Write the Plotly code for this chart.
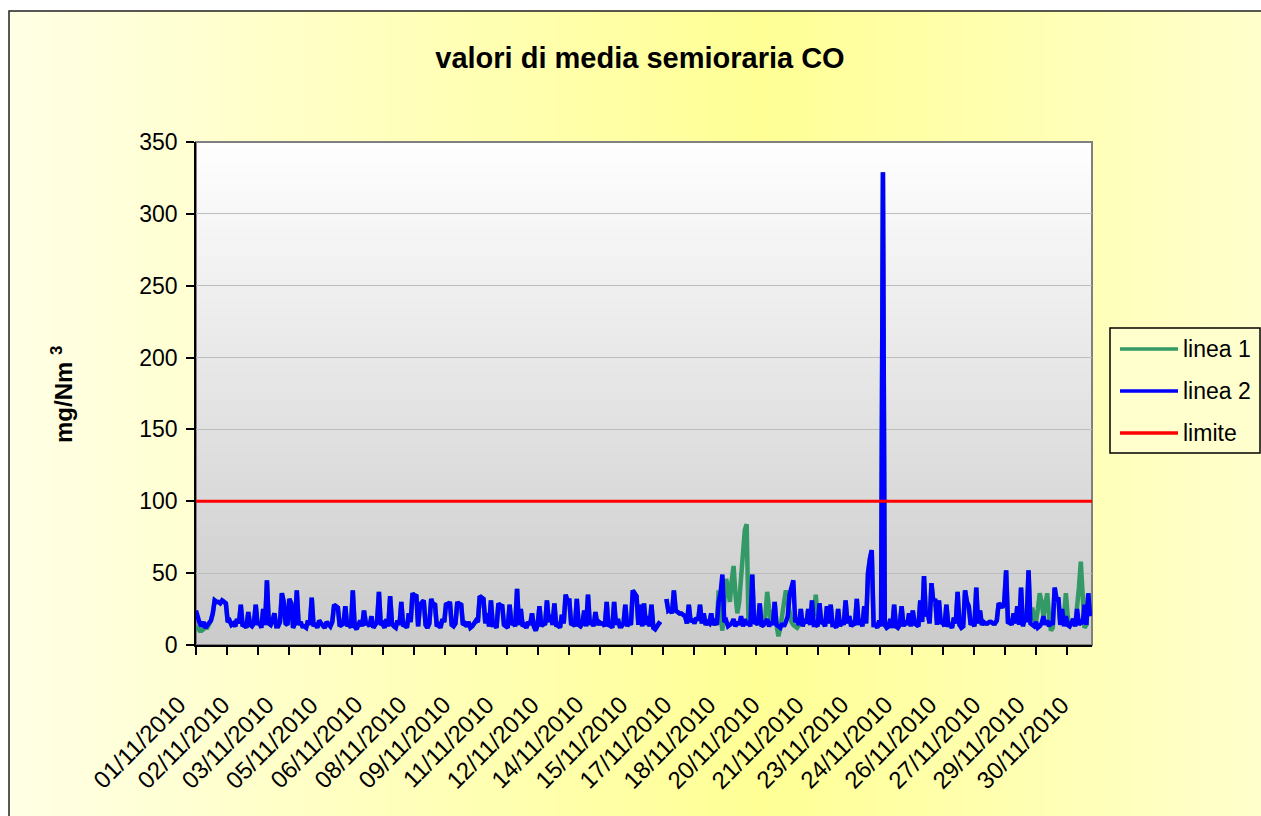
import numpy as np
import plotly.graph_objects as go

# ---------------- data ----------------
# half-hourly category index (sampled every 3 categories of 1440 = 30 days x 48)
passo = 3
n_categorie = 1440
categoria = list(range(0, n_categorie, passo))

linea_2 = [
    24, 18, 15, 13, 16, 12, 14, 15, 17, 22, 31, 30, 30, 29, 31, 30, 29, 16, 17, 14,
    15, 13, 18, 15, 28, 13, 14, 12, 23, 14, 13, 15, 28, 14, 16, 12, 25, 14, 45, 15,
    14, 17, 22, 13, 13, 16, 36, 30, 15, 14, 32, 29, 12, 15, 38, 14, 16, 13, 13, 12,
    17, 14, 33, 13, 15, 12, 17, 15, 14, 12, 16, 14, 13, 16, 28, 27, 26, 13, 14, 15,
    27, 13, 15, 12, 38, 13, 11, 14, 17, 13, 24, 15, 15, 13, 20, 12, 14, 16, 37, 14,
    15, 12, 18, 13, 34, 15, 13, 12, 17, 14, 30, 13, 14, 12, 22, 16, 36, 34, 35, 13,
    28, 30, 31, 14, 12, 15, 32, 28, 29, 13, 14, 12, 18, 16, 29, 28, 30, 14, 13, 15,
    30, 28, 29, 14, 15, 13, 16, 12, 13, 15, 17, 16, 34, 33, 32, 15, 22, 13, 31, 14,
    14, 12, 29, 27, 28, 14, 13, 12, 28, 14, 16, 13, 39, 14, 25, 13, 14, 12, 16, 14,
    22, 13, 10, 14, 27, 13, 15, 14, 31, 16, 21, 14, 29, 13, 14, 12, 21, 15, 35, 31,
    31, 14, 15, 13, 32, 14, 13, 15, 24, 13, 35, 14, 17, 13, 23, 14, 16, 15, 15, 13,
    30, 13, 14, 12, 30, 14, 18, 13, 13, 15, 28, 13, 16, 14, 38, 36, 34, 14, 28, 13,
    29, 14, 20, 13, 28, 12, 11, 13, 15, 14, None, None, 32, 24, 25, 22, 38, 24, 23, 22,
    22, 21, 20, 15, 28, 16, 18, 15, 19, 17, 28, 15, 22, 14, 16, 15, 22, 14, 16, 14,
    30, 36, 49, 16, 17, 13, 14, 15, 18, 13, 16, 14, 20, 13, 18, 14, 16, 13, 49, 15,
    16, 14, 29, 13, 14, 16, 18, 13, 16, 14, 30, 14, 13, 12, 15, 13, 16, 20, 35, 42,
    45, 16, 17, 14, 25, 13, 18, 15, 25, 14, 31, 14, 14, 13, 29, 15, 16, 13, 27, 15,
    28, 14, 14, 12, 25, 13, 17, 14, 31, 15, 20, 13, 15, 14, 32, 14, 18, 13, 27, 15,
    50, 60, 66, 14, 14, 12, 17, 13, 329, 14, 12, 13, 18, 12, 28, 13, 12, 14, 27, 13,
    17, 14, 22, 13, 24, 15, 14, 13, 31, 16, 48, 20, 22, 15, 43, 30, 32, 14, 31, 15,
    16, 13, 28, 14, 14, 12, 19, 15, 37, 14, 12, 13, 38, 30, 27, 14, 16, 13, 40, 15,
    24, 14, 16, 15, 15, 16, 16, 15, 15, 17, 29, 27, 26, 30, 52, 15, 16, 14, 22, 15,
    27, 14, 40, 13, 19, 16, 52, 15, 14, 13, 16, 12, 13, 15, 20, 14, 17, 13, 16, 14,
    40, 32, 33, 14, 25, 13, 20, 14, 13, 15, 18, 13, 25, 14, 16, 15, 28, 14, 36, 20,
]

linea_1 = [
    13, 11, 10, 10, 11, 12, 12, 15, 17, 22, 31, 30, 30, 29, 31, 30, 29, 16, 17, 14,
    15, 13, 18, 15, 28, 13, 14, 12, 23, 14, 13, 15, 28, 14, 16, 12, 25, 14, 45, 15,
    14, 17, 22, 13, 13, 16, 36, 30, 15, 14, 32, 29, 12, 15, 38, 14, 16, 13, 13, 12,
    17, 14, 33, 13, 15, 12, 17, 15, 14, 12, 16, 14, 13, 16, 28, 27, 26, 13, 14, 15,
    27, 13, 15, 12, 38, 13, 11, 14, 17, 13, 24, 15, 15, 13, 20, 12, 14, 16, 37, 14,
    15, 12, 18, 13, 34, 15, 13, 12, 17, 14, 30, 13, 14, 12, 22, 16, 36, 34, 35, 13,
    28, 30, 31, 14, 12, 15, 32, 28, 29, 13, 14, 12, 18, 16, 29, 28, 30, 14, 13, 15,
    30, 28, 29, 14, 15, 13, 16, 12, 13, 15, 17, 16, 34, 33, 32, 15, 22, 13, 31, 14,
    14, 12, 29, 27, 28, 14, 13, 12, 28, 14, 16, 13, 39, 14, 25, 13, 14, 12, 16, 14,
    22, 13, 10, 14, 27, 13, 15, 14, 31, 16, 21, 14, 29, 13, 14, 12, 21, 15, 35, 31,
    31, 14, 15, 13, 32, 14, 13, 15, 24, 13, 35, 14, 17, 13, 23, 14, 16, 15, 15, 13,
    30, 13, 14, 12, 30, 14, 18, 13, 13, 15, 28, 13, 16, 14, 38, 36, 34, 14, 28, 13,
    29, 14, 20, 13, 28, 12, 11, 13, 15, 14, None, None, 32, 24, 25, 22, 38, 24, 23, 22,
    22, 21, 20, 15, 28, 16, 18, 15, 19, 17, 28, 15, 22, 14, 16, 15, 22, 14, 16, 14,
    38, 20, 10, 30, 46, 40, 30, 45, 55, 35, 22, 30, 50, 70, 80, 84, 14, 16, 49, 15,
    16, 14, 29, 13, 14, 20, 37, 25, 16, 14, 30, 14, 6, 12, 20, 28, 38, 30, 20, 16,
    14, 13, 12, 14, 25, 13, 18, 15, 25, 14, 31, 20, 35, 20, 29, 15, 16, 13, 27, 15,
    28, 14, 14, 12, 25, 13, 17, 14, 31, 15, 20, 13, 15, 14, 32, 14, 18, 13, 27, 15,
    50, 60, 66, 14, 14, 12, 17, 13, 329, 14, 12, 13, 18, 12, 28, 13, 12, 14, 27, 13,
    17, 14, 22, 13, 24, 15, 14, 13, 31, 16, 48, 20, 22, 15, 43, 30, 32, 14, 31, 15,
    16, 13, 28, 14, 14, 12, 19, 15, 37, 14, 12, 13, 38, 30, 27, 14, 16, 13, 40, 15,
    24, 14, 16, 15, 15, 16, 16, 15, 15, 17, 29, 27, 26, 30, 52, 15, 16, 14, 22, 15,
    27, 14, 40, 13, 19, 16, 52, 20, 26, 18, 16, 25, 36, 30, 20, 28, 36, 20, 10, 12,
    40, 32, 33, 14, 25, 20, 36, 20, 13, 15, 18, 13, 25, 40, 58, 30, 12, 14, 36, 20,
]

limite = 100

etichette_x = [
    "01/11/2010", "02/11/2010", "03/11/2010", "05/11/2010", "06/11/2010",
    "08/11/2010", "09/11/2010", "11/11/2010", "12/11/2010", "14/11/2010",
    "15/11/2010", "17/11/2010", "18/11/2010", "20/11/2010", "21/11/2010",
    "23/11/2010", "24/11/2010", "26/11/2010", "27/11/2010", "29/11/2010",
    "30/11/2010",
]
intervallo_etichette = 71
intervallo_tacche = 50
y_ticks = [0, 50, 100, 150, 200, 250, 300, 350]

nomi = ["linea 1", "linea 2", "limite"]
colori = ["#339966", "#0000FF", "#FF0000"]

# ---------------- layout geometry ----------------
W, H = 1261, 816
PL, PR, PT, PB = 196, 1092, 142, 645
PW, PH = PR - PL, PB - PT
FONT = "Liberation Sans, Arial, sans-serif"


def fx(px):
    return (px - PL) / PW


def fy(py):
    return (PB - py) / PH


fig = go.Figure()
fig.add_trace(go.Scatter(x=categoria, y=linea_1, mode="lines", name=nomi[0],
                         line=dict(color=colori[0], width=4.5), connectgaps=False))
fig.add_trace(go.Scatter(x=categoria, y=linea_2, mode="lines", name=nomi[1],
                         line=dict(color=colori[1], width=4.5), connectgaps=False))
fig.add_trace(go.Scatter(x=[0, n_categorie], y=[limite, limite], mode="lines",
                         name=nomi[2], line=dict(color=colori[2], width=3)))

shapes = []
# chart-area horizontal gradient (light -> yellow -> light)
NS = 90
x_left, x_right = 9, 1270
for k in range(NS):
    a = x_left + (x_right - x_left) * k / NS
    b = x_left + (x_right - x_left) * (k + 1) / NS
    m = (a + b) / 2
    bl = int(np.interp(m, [9, 760, 1261], [230, 150, 205]))
    shapes.append(dict(type="rect", xref="paper", yref="paper",
                       x0=fx(a), x1=fx(b) + 0.0015, y0=fy(11), y1=fy(830),
                       fillcolor=f"rgb(255,255,{bl})", line=dict(width=0),
                       layer="below"))
# chart frame
shapes.append(dict(type="rect", xref="paper", yref="paper",
                   x0=fx(9), x1=fx(1300), y0=fy(11), y1=fy(900),
                   line=dict(color="#222222", width=1.5), layer="below"))
# plot-area vertical gradient (white -> grey)
NV = 70
for k in range(NV):
    y0 = k / NV
    y1 = (k + 1) / NV
    g = int(203 + 52 * (y0 + y1) / 2)
    shapes.append(dict(type="rect", xref="x domain", yref="y domain",
                       x0=0, x1=1, y0=y0, y1=y1 + 0.002,
                       fillcolor=f"rgb({g},{g},{g})", line=dict(width=0),
                       layer="below"))
# plot-area border (grey)
shapes.append(dict(type="rect", xref="x domain", yref="y domain",
                   x0=0, x1=1, y0=0, y1=1,
                   line=dict(color="#808080", width=2), layer="below"))

# manual legend
LX0, LX1, LY0, LY1 = 1110, 1260, 328, 453
shapes.append(dict(type="rect", xref="paper", yref="paper",
                   x0=fx(LX0), x1=fx(LX1), y0=fy(LY1), y1=fy(LY0),
                   fillcolor="rgb(255,255,205)", line=dict(color="black", width=1.5)))
annotations = []
for j, (nm, col) in enumerate(zip(nomi, colori)):
    yy = 349 + 42 * j
    shapes.append(dict(type="line", xref="paper", yref="paper",
                       x0=fx(1120), x1=fx(1178), y0=fy(yy), y1=fy(yy),
                       line=dict(color=col, width=3.5)))
    annotations.append(dict(xref="paper", yref="paper", x=fx(1181), y=fy(yy),
                            text=nm, showarrow=False, xanchor="left",
                            yanchor="middle",
                            font=dict(family=FONT, size=23, color="black")))

# y-axis title
annotations.append(dict(xref="paper", yref="paper", x=fx(62), y=fy(395),
                        text="<b>mg/Nm <sup>3</sup></b>", showarrow=False,
                        textangle=-90, xanchor="center", yanchor="middle",
                        font=dict(family=FONT, size=24, color="black")))

# rotated category labels
for i, lab in enumerate(etichette_x):
    annotations.append(dict(xref="x", yref="paper", x=i * intervallo_etichette,
                            y=fy(688), xshift=-3, text=lab, showarrow=False,
                            textangle=-45, xanchor="right", yanchor="top",
                            font=dict(family=FONT, size=24, color="black")))

fig.update_layout(
    width=W, height=H,
    margin=dict(l=PL, r=W - PR, t=PT, b=H - PB, pad=0),
    paper_bgcolor="white",
    plot_bgcolor="rgba(0,0,0,0)",
    showlegend=False,
    shapes=shapes,
    annotations=annotations,
    title=dict(text="<b>valori di media semioraria CO</b>",
               x=640 / W, xanchor="center", xref="container",
               y=1 - 58 / H, yanchor="middle", yref="container",
               font=dict(family=FONT, size=29, color="black")),
    font=dict(family=FONT, color="black"),
)

fig.update_xaxes(
    range=[0, n_categorie],
    tickmode="array",
    tickvals=[i * intervallo_etichette for i in range(len(etichette_x))],
    ticks="",
    showticklabels=False,
    showline=True, linecolor="black", linewidth=2,
    showgrid=False, zeroline=False,
    minor=dict(tickmode="linear", tick0=0, dtick=intervallo_tacche,
               ticks="outside", ticklen=8, tickwidth=1.5, tickcolor="black",
               showgrid=False),
)
fig.update_yaxes(
    range=[0, 350],
    tickmode="array", tickvals=y_ticks,
    ticks="outside", ticklen=8, tickwidth=1.5, tickcolor="black",
    ticklabelstandoff=4,
    tickfont=dict(family=FONT, size=23, color="black"),
    showline=True, linecolor="black", linewidth=1.5,
    showgrid=True, gridcolor="#BDBDBD", gridwidth=1,
    zeroline=False,
)

fig.write_html("out.html",
               config={"displayModeBar": False},
               post_script="document.body.style.margin='0';"
                           "document.body.style.overflow='hidden';")
